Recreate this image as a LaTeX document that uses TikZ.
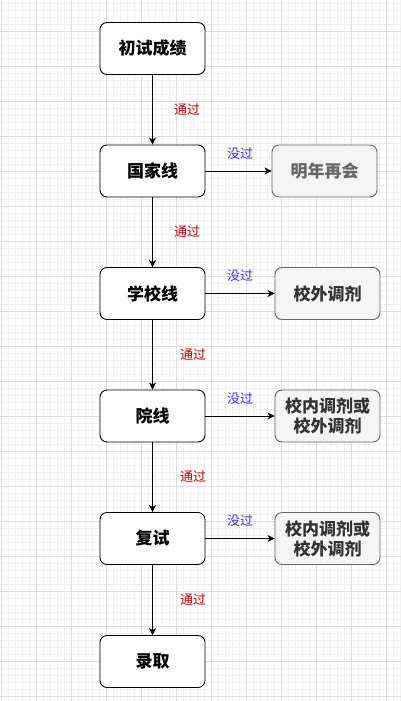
\documentclass[tikz,border=0pt]{standalone}
\usepackage{fontspec}
\setmainfont{Noto Sans CJK SC}
\usetikzlibrary{arrows.meta}
\definecolor{gminor}{HTML}{F1F1F1}
\definecolor{gmajor}{HTML}{DEDEDE}
\definecolor{sidefill}{HTML}{F5F5F5}
\definecolor{sideborder}{HTML}{666666}
\definecolor{sidetext}{HTML}{333333}
\definecolor{sidetextb}{HTML}{666666}
\definecolor{passred}{HTML}{CC0000}
\definecolor{failblue}{HTML}{3333FF}
\begin{document}
\begin{tikzpicture}[x=1pt,y=-1pt,
  mainbox/.style={draw=black, fill=white, rounded corners=7pt, line width=0.9pt,
    minimum width=105pt, minimum height=52pt, inner sep=0pt,
    font=\bfseries\fontsize{17}{20}\selectfont},
  sidebox/.style={draw=sideborder, fill=sidefill, rounded corners=7pt, line width=0.9pt,
    minimum width=105pt, minimum height=52pt, inner sep=0pt, align=center,
    text=sidetext, font=\bfseries\fontsize{17}{20}\selectfont},
  passlbl/.style={text=passred, font=\fontsize{13}{15}\selectfont, inner sep=0pt},
  faillbl/.style={text=failblue, font=\fontsize{13}{15}\selectfont, inner sep=0pt},
  conn/.style={line width=0.9pt, -{Stealth[length=7pt,width=7pt,inset=2pt]}}
]
\useasboundingbox (0,0) rectangle (401,701);
\fill[white] (0,0) rectangle (401,701);
% minor grid
\foreach \i in {0,...,57} { \draw[gminor, line width=0.6pt] (1+7*\i,0) -- (1+7*\i,701); }
\foreach \i in {0,...,100} { \draw[gminor, line width=0.6pt] (0,3+7*\i) -- (401,3+7*\i); }
% major grid
\foreach \i in {0,...,11} { \draw[gmajor, line width=0.8pt] (1+35*\i,0) -- (1+35*\i,701); }
\foreach \i in {0,...,20} { \draw[gmajor, line width=0.8pt] (0,-4+35*\i) -- (401,-4+35*\i); }

% main column
\node[mainbox] (a) at (152.5,48.5) {初试成绩};
\node[mainbox] (b) at (152.5,171) {国家线};
\node[mainbox] (c) at (152.5,293.5) {学校线};
\node[mainbox] (d) at (152.5,416) {院线};
\node[mainbox] (e) at (152.5,538.5) {复试};
\node[mainbox] (f) at (152.5,661.5) {录取};

% side boxes
\node[sidebox, text=sidetextb] (b2) at (324.5,171) {明年再会};
\node[sidebox] (c2) at (327.5,293.5) {校外调剂};
\node[sidebox] (d2) at (327.5,416) {校内调剂或\\校外调剂};
\node[sidebox] (e2) at (327.5,538.5) {校内调剂或\\校外调剂};

% vertical connectors
\draw[conn] (a) -- (b);
\draw[conn] (b) -- (c);
\draw[conn] (c) -- (d);
\draw[conn] (d) -- (e);
\draw[conn] (e) -- (f);

% horizontal connectors
\draw[conn] (b) -- (b2);
\draw[conn] (c) -- (c2);
\draw[conn] (d) -- (d2);
\draw[conn] (e) -- (e2);

% labels
\node[passlbl] (p1) at (187,110) {通过};
\node[passlbl] (p2) at (187,232) {通过};
\node[passlbl] (p3) at (193,355) {通过};
\node[passlbl] (p4) at (193,477) {通过};
\node[passlbl] (p5) at (193,600) {通过};
\node[faillbl] (q1) at (240,154) {没过};
\node[faillbl] (q2) at (240,276) {没过};
\node[faillbl] (q3) at (240,399) {没过};
\node[faillbl] (q4) at (240,521) {没过};
\end{tikzpicture}
\end{document}
